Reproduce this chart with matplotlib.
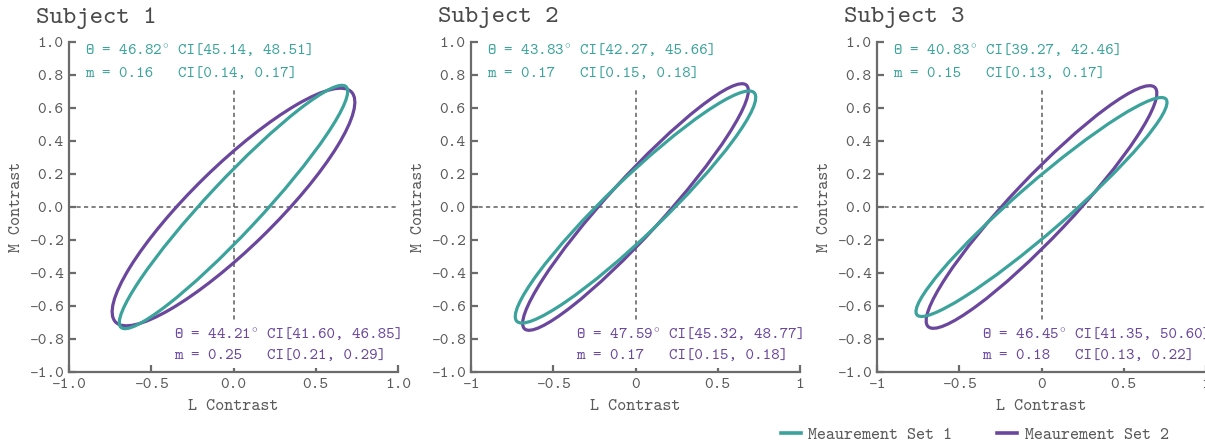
import matplotlib
matplotlib.use("Agg")
import matplotlib.pyplot as plt
from matplotlib.patches import Ellipse
from matplotlib.lines import Line2D

plt.rcParams['font.family'] = ['cmtt10', 'DejaVu Sans Mono']
plt.rcParams['axes.unicode_minus'] = False
plt.rcParams['mathtext.fontset'] = 'cm'

subjects = ["Subject 1", "Subject 2", "Subject 3"]
theta_set1 = [46.82, 43.83, 40.83]
theta_ci_set1 = [(45.14, 48.51), (42.27, 45.66), (39.27, 42.46)]
m_set1 = [0.16, 0.17, 0.15]
m_ci_set1 = [(0.14, 0.17), (0.15, 0.18), (0.13, 0.17)]
theta_set2 = [44.21, 47.59, 46.45]
theta_ci_set2 = [(41.60, 46.85), (45.32, 48.77), (41.35, 50.60)]
m_set2 = [0.25, 0.17, 0.18]
m_ci_set2 = [(0.21, 0.29), (0.15, 0.18), (0.13, 0.22)]
series_labels = ["Meaurement Set 1", "Meaurement Set 2"]
yticks = [-1.0, -0.8, -0.6, -0.4, -0.2, 0.0, 0.2, 0.4, 0.6, 0.8, 1.0]
xticks = [-1.0, -0.5, 0.0, 0.5, 1.0]
xticklabels_first = ["-1.0", "-0.5", "0.0", "0.5", "1.0"]
xticklabels_other = ["-1", "-0.5", "0", "0.5", "1"]

# glyph of the bundled cmtt10 (TeX OT1 layout): Theta
THETA = "\u00a3"
DEG = r"$^{\circ}$"

TEAL = "#3ba39b"
PURPLE = "#6a479d"
GRAY = "#6b6b6b"
TXT = "#5a5a5a"
FS = 11.65
FS_TICK = 12.0
FS_LAB = 12.4

fig = plt.figure(figsize=(12.05, 4.45), dpi=100)
lefts = [69, 471, 877]
W, H = 1205, 445


def two_line(ax, x_left, x_ci, y1, y2, theta, tci, m, mci, color):
    kw = dict(color=color, fontsize=FS, va="center", ha="left", zorder=2.5,
              bbox=dict(facecolor="white", edgecolor="none", pad=4.0))
    ax.text(x_left, y1, f"{THETA} = {theta:.2f}{DEG}", **kw)
    ax.text(x_left, y2, f"m = {m:.2f}", **kw)
    ax.text(x_ci, y1, f"CI[{tci[0]:.2f}, {tci[1]:.2f}]", **kw)
    ax.text(x_ci, y2, f"CI[{mci[0]:.2f}, {mci[1]:.2f}]", **kw)


for i in range(3):
    ax = fig.add_axes([lefts[i] / W, 1 - 372 / H, 329 / W, 330 / H])
    ax.set_xlim(-1, 1)
    ax.set_ylim(-1, 1)
    for s in ["top", "right"]:
        ax.spines[s].set_visible(False)
    for s in ["left", "bottom"]:
        ax.spines[s].set_color(GRAY)
        ax.spines[s].set_linewidth(1.6)
    ax.tick_params(direction="in", length=5, width=1.6, color=GRAY,
                   labelcolor=TXT, labelsize=FS_TICK, pad=4)
    ax.set_yticks(yticks)
    ax.set_yticklabels([f"{v:.1f}" for v in yticks])
    ax.set_xticks(xticks)
    ax.set_xticklabels(xticklabels_first if i == 0 else xticklabels_other)
    ax.set_xlabel("L Contrast", color=TXT, fontsize=FS_LAB, labelpad=5)
    ax.set_ylabel("M Contrast", color=TXT, fontsize=FS_LAB, labelpad=3)

    ax.axhline(0, color=GRAY, ls=(0, (2.5, 2)), lw=1.2, zorder=1)
    ax.axvline(0, color=GRAY, ls=(0, (2.5, 2)), lw=1.2, zorder=1)

    e2 = Ellipse((0, 0), width=2, height=2 * m_set2[i], angle=theta_set2[i],
                 fill=False, ec=PURPLE, lw=2.3, zorder=3)
    e1 = Ellipse((0, 0), width=2, height=2 * m_set1[i], angle=theta_set1[i],
                 fill=False, ec=TEAL, lw=2.3, zorder=3.1)
    ax.add_patch(e2)
    ax.add_patch(e1)

    two_line(ax, -0.9, -0.337, 0.946, 0.806, theta_set1[i], theta_ci_set1[i],
             m_set1[i], m_ci_set1[i], TEAL)
    two_line(ax, -0.362, 0.202, -0.776, -0.903, theta_set2[i], theta_ci_set2[i],
             m_set2[i], m_ci_set2[i], PURPLE)

    fig.text((lefts[i] - 33) / W, 1 - 18 / H, subjects[i], fontsize=18.4,
             color="#4a4a4a", ha="left", va="center")

handles = [Line2D([], [], color=TEAL, lw=2.6), Line2D([], [], color=PURPLE, lw=2.6)]
fig.legend(handles, series_labels, loc="center right", ncol=2, frameon=False,
           bbox_to_anchor=(1169 / W, 1 - 435 / H), fontsize=FS_LAB,
           handlelength=1.16, columnspacing=2.6, handletextpad=0.45,
           borderpad=0.0, borderaxespad=0.0, labelcolor=TXT)

fig.savefig("out.png", dpi=100)
